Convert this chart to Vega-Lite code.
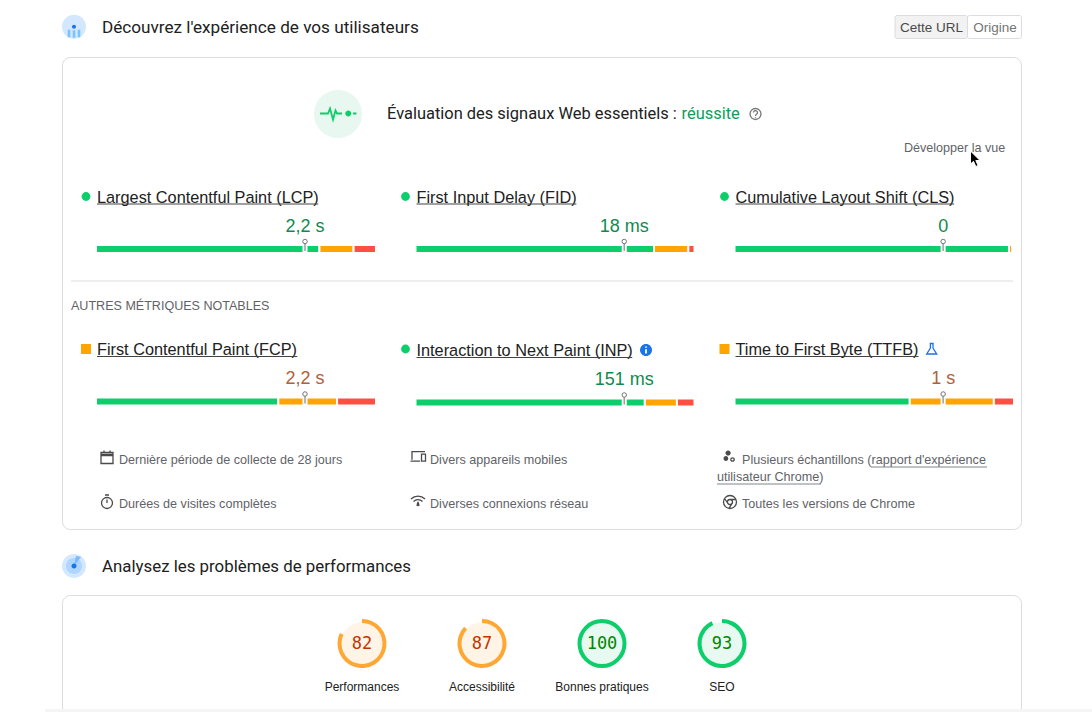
{"$schema":"https://vega.github.io/schema/vega-lite/v6.json","width":1092,"height":712,"padding":0,"autosize":{"type":"none"},"background":"white","config":{"view":{"stroke":null},"axis":{"disable":true},"legend":{"disable":true},"text":{"font":"Liberation Sans"}},
"datasets":{
"metrics":[
{"metric":"LCP","name":"Largest Contentful Paint (LCP)","col":1,"row":1,"value":"2,2 s","status":"good","p75":75,"origin":0,"nameWidth":79.3},
{"metric":"FID","name":"First Input Delay (FID)","col":2,"row":1,"value":"18 ms","status":"good","p75":75,"origin":0,"nameWidth":57.5},
{"metric":"CLS","name":"Cumulative Layout Shift (CLS)","col":3,"row":1,"value":"0","status":"good","p75":75,"origin":0,"nameWidth":78.5},
{"metric":"FCP","name":"First Contentful Paint (FCP)","col":1,"row":2,"value":"2,2 s","status":"average","p75":75,"origin":0,"nameWidth":71.8},
{"metric":"INP","name":"Interaction to Next Paint (INP)","col":2,"row":2,"value":"151 ms","status":"good","p75":75,"origin":0,"nameWidth":77.6},
{"metric":"TTFB","name":"Time to First Byte (TTFB)","col":3,"row":2,"value":"1 s","status":"average","p75":75,"origin":0,"nameWidth":65.7}],
"segments":[
{"metric":"LCP","col":1,"row":1,"rank":1,"status":"good","share":79.8},{"metric":"LCP","col":1,"row":1,"rank":2,"status":"average","share":12.2},{"metric":"LCP","col":1,"row":1,"rank":3,"status":"poor","share":8},
{"metric":"FID","col":2,"row":1,"rank":1,"status":"good","share":85.5},{"metric":"FID","col":2,"row":1,"rank":2,"status":"average","share":12.3},{"metric":"FID","col":2,"row":1,"rank":3,"status":"poor","share":2.2},
{"metric":"CLS","col":3,"row":1,"rank":1,"status":"good","share":98.2},{"metric":"CLS","col":3,"row":1,"rank":2,"status":"average","share":1.2},{"metric":"CLS","col":3,"row":1,"rank":3,"status":"poor","share":0.6},
{"metric":"FCP","col":1,"row":2,"rank":1,"status":"good","share":65.1},{"metric":"FCP","col":1,"row":2,"rank":2,"status":"average","share":21},{"metric":"FCP","col":1,"row":2,"rank":3,"status":"poor","share":13.9},
{"metric":"INP","col":2,"row":2,"rank":1,"status":"good","share":82.2},{"metric":"INP","col":2,"row":2,"rank":2,"status":"average","share":11.5},{"metric":"INP","col":2,"row":2,"rank":3,"status":"poor","share":6.3},
{"metric":"TTFB","col":3,"row":2,"rank":1,"status":"good","share":62.7},{"metric":"TTFB","col":3,"row":2,"rank":2,"status":"average","share":30.1},{"metric":"TTFB","col":3,"row":2,"rank":3,"status":"poor","share":7.2}],
"scores":[
{"category":"Performances","col":1,"start":0,"score":82,"rating":"average"},
{"category":"Accessibilité","col":2,"start":0,"score":87,"rating":"average"},
{"category":"Bonnes pratiques","col":3,"start":0,"score":100,"rating":"good"},
{"category":"SEO","col":4,"start":0,"score":93,"rating":"good"}],
"captions":[
{"text":"Dernière période de collecte de 28 jours","col":1,"row":1},
{"text":"Divers appareils mobiles","col":2,"row":1},
{"text":"Plusieurs échantillons (rapport d'expérience","col":3,"row":1},
{"text":"utilisateur Chrome)","col":4,"row":2},
{"text":"Durées de visites complètes","col":1,"row":3},
{"text":"Diverses connexions réseau","col":2,"row":3},
{"text":"Toutes les versions de Chrome","col":3,"row":3}]
},
"resolve":{"scale":{"x":"independent","y":"independent","color":"independent","shape":"independent","size":"independent"}},
"layer":[
{"data":{"values":[{"card":"Signaux Web","left":0,"right":1,"top":1,"bottom":2},{"card":"Performances","left":0,"right":1,"top":3,"bottom":4}]},"mark":{"type":"rect","fill":"white","stroke":"#DADCE0","strokeWidth":1,"cornerRadius":8,"clip":true},"encoding":{"x":{"field":"left","type":"quantitative","scale":{"domain":[0,1],"range":[62.5,1021.5]}},"x2":{"field":"right"},"y":{"field":"top","type":"quantitative","scale":{"domain":[1,2,3,4],"range":[57.5,529.5,595.5,730]}},"y2":{"field":"bottom"}}},
{"data":{"values":[{"section":1,"text":"Découvrez l'expérience de vos utilisateurs"},{"section":2,"text":"Analysez les problèmes de performances"}]},"mark":{"type":"text","font":"Roboto","fontWeight":400,"align":"left","baseline":"middle","color":"#212121"},"encoding":{"x":{"field":"section","type":"quantitative","scale":{"domain":[1,2],"range":[102,102]}},"y":{"field":"section","type":"quantitative","scale":{"domain":[1,2],"range":[27.5,566.5]}},"size":{"field":"section","type":"quantitative","scale":{"domain":[1,2],"range":[17.15,16.85]}},"text":{"field":"text"}}},
{"data":{"values":[{"option":"Cette URL","start":1,"end":2,"low":0,"high":1,"selected":"oui"},{"option":"Origine","start":2,"end":3,"low":0,"high":1,"selected":"non"}]},"mark":{"type":"rect","stroke":"#DADCE0","strokeWidth":1,"cornerRadius":2},"encoding":{"x":{"field":"start","type":"quantitative","scale":{"domain":[1,2,3],"range":[895,967.5,1021.5]}},"x2":{"field":"end"},"y":{"field":"low","type":"quantitative","scale":{"domain":[0,1],"range":[15.5,38.5]}},"y2":{"field":"high"},"color":{"field":"selected","type":"nominal","scale":{"domain":["oui","non"],"range":["#F2F2F2","#FFFFFF"]}}}},
{"data":{"values":[{"option":"Cette URL","start":1,"selected":"oui"},{"option":"Origine","start":2,"selected":"non"}]},"mark":{"type":"text","fontSize":13.5,"align":"center","baseline":"middle"},"encoding":{"x":{"field":"start","type":"quantitative","scale":{"domain":[1,2],"range":[931.5,995]}},"y":{"field":"start","type":"quantitative","scale":{"domain":[1,2],"range":[27.5,27.5]}},"text":{"field":"option"},"color":{"field":"selected","type":"nominal","scale":{"domain":["oui","non"],"range":["#4A4A4A","#757575"]}}}},
{"data":{"values":[{"part":1,"text":"Évaluation des signaux Web essentiels :","tone":"neutre"},{"part":2,"text":"réussite","tone":"good"}]},"mark":{"type":"text","font":"Roboto","fontSize":16.45,"fontWeight":400,"align":"left","baseline":"middle"},"encoding":{"x":{"field":"part","type":"quantitative","scale":{"domain":[1,2],"range":[387,681.5]}},"y":{"field":"part","type":"quantitative","scale":{"domain":[1,2],"range":[114,114]}},"text":{"field":"text"},"color":{"field":"tone","type":"nominal","scale":{"domain":["neutre","good"],"range":["#212121","#0C9D58"]}}}},
{"data":{"values":[{"slot":1,"text":"Développer la vue"},{"slot":2,"text":"AUTRES MÉTRIQUES NOTABLES"}]},"mark":{"type":"text","fontSize":12.55,"align":"left","baseline":"middle","color":"#5F6368"},"encoding":{"x":{"field":"slot","type":"quantitative","scale":{"domain":[1,2],"range":[904,71]}},"y":{"field":"slot","type":"quantitative","scale":{"domain":[1,2],"range":[148,305.5]}},"text":{"field":"text"}}},
{"data":{"values":[{"line":"séparateur","from":0,"to":1}]},"mark":{"type":"rule","stroke":"#E8E8E8","strokeWidth":1.5},"encoding":{"x":{"field":"from","type":"quantitative","scale":{"domain":[0,1],"range":[71,1013]}},"x2":{"field":"to"},"y":{"field":"from","type":"quantitative","scale":{"domain":[0,1],"range":[281,281]}}}},
{"data":{"name":"captions"},"mark":{"type":"text","fontSize":12.6,"align":"left","baseline":"middle","color":"#5F6368"},"encoding":{"x":{"field":"col","type":"quantitative","scale":{"domain":[1,2,3,4],"range":[119,430,742,717]}},"y":{"field":"row","type":"quantitative","scale":{"domain":[1,2,3],"range":[460,477,504]}},"text":{"field":"text"}}},
{"data":{"values":[{"link":"rapport d'expérience","from":1,"to":2},{"link":"utilisateur Chrome","from":3,"to":4}]},"mark":{"type":"rule","stroke":"#80868B","strokeWidth":1},"encoding":{"x":{"field":"from","type":"quantitative","scale":{"domain":[1,2,3,4],"range":[871,987,717,821]}},"x2":{"field":"to"},"y":{"field":"from","type":"quantitative","scale":{"domain":[1,2,3,4],"range":[467,467,484,484]}}}},
{"data":{"values":[{"icon":"exp-bg","slot":1},{"icon":"exp-bars","slot":1},{"icon":"exp-dot","slot":1},{"icon":"sig-bg","slot":2},{"icon":"sig-dot","slot":3},{"icon":"perf-bg","slot":4},{"icon":"perf-mid","slot":4},{"icon":"perf-wedge","slot":4},{"icon":"perf-dot","slot":4},{"icon":"info","slot":5},{"icon":"samples","slot":6}]},"mark":{"type":"point","filled":true,"size":4,"opacity":1,"strokeWidth":0},"encoding":{"x":{"field":"slot","type":"quantitative","scale":{"domain":[1,2,3,4,5,6],"range":[74,338,348.3,74,646,729]}},"y":{"field":"slot","type":"quantitative","scale":{"domain":[1,2,3,4,5,6],"range":[26.7,114,113.5,566,350,457]}},"shape":{"field":"icon","type":"nominal","scale":{"domain":["exp-bg","exp-bars","exp-dot","sig-bg","sig-dot","perf-bg","perf-mid","perf-wedge","perf-dot","info","samples"],"range":["M-12,0A12,12 0 1 1 12,0A12,12 0 1 1 -12,0Z","M-6.3,3H-3.7V10.5H-6.3Z M-1.3,3.5H1.3V11H-1.3Z M3.7,3H6.3V10.5H3.7Z","M-2,0A2,2 0 1 1 2,0A2,2 0 1 1 -2,0Z","M-24,0A24,24 0 1 1 24,0A24,24 0 1 1 -24,0Z","M-3,0A3,3 0 1 1 3,0A3,3 0 1 1 -3,0Z","M-12,0A12,12 0 1 1 12,0A12,12 0 1 1 -12,0Z","M-8,0A8,8 0 1 1 8,0A8,8 0 1 1 -8,0Z","M0,0L7,-9L2,-10Z","M-2.5,0A2.5,2.5 0 1 1 2.5,0A2.5,2.5 0 1 1 -2.5,0Z","M-6,0A6,6 0 1 1 6,0A6,6 0 1 1 -6,0Z","M-3.5,-4A2.6,2.6 0 1 1 1.7,-4A2.6,2.6 0 1 1 -3.5,-4Z M-5.5,1.5A2.4,2.4 0 1 1 -0.7,1.5A2.4,2.4 0 1 1 -5.5,1.5Z"]}},"color":{"field":"icon","type":"nominal","scale":{"domain":["exp-bg","exp-bars","exp-dot","sig-bg","sig-dot","perf-bg","perf-mid","perf-wedge","perf-dot","info","samples"],"range":["#D3E8FF","#7DC3FB","#1A73E8","#E8F8F1","#0CCE6B","#D3E8FF","#AFD6FF","#7DB8F7","#1A73E8","#1A73E8","#4A4A4A"]}}}},
{"data":{"values":[{"icon":"help","slot":1},{"icon":"calendar","slot":2},{"icon":"timer","slot":3},{"icon":"devices","slot":4},{"icon":"network","slot":5},{"icon":"samples-ring","slot":6},{"icon":"chrome","slot":7},{"icon":"flask","slot":8}]},"mark":{"type":"point","filled":false,"size":4,"opacity":1,"strokeWidth":1.3},"encoding":{"x":{"field":"slot","type":"quantitative","scale":{"domain":[1,2,3,4,5,6,7,8],"range":[755.5,107,107,418,418,729,730,931.7]}},"y":{"field":"slot","type":"quantitative","scale":{"domain":[1,2,3,4,5,6,7,8],"range":[114,457.5,501.5,456.7,501,457,502,349]}},"shape":{"field":"icon","type":"nominal","scale":{"domain":["help","calendar","timer","devices","network","samples-ring","chrome","flask"],"range":["M-5.5,0A5.5,5.5 0 1 1 5.5,0A5.5,5.5 0 1 1 -5.5,0Z M-2,-1.5A2,2 0 1 1 1,0.3C0.3,0.8 0,1.2 0,2 M0,3V3.8","M-6,-5H6V6H-6Z M-6,-3H6 M-6,-2H6 M-3,-7V-5 M3,-7V-5","M-5.5,1.5A5.5,5.5 0 1 1 5.5,1.5A5.5,5.5 0 1 1 -5.5,1.5Z M-2,-6.5H2 M0,1.5V-2","M-6,3V-5H7 M-7.5,4.5H2 M3.5,-2.5H7.5V4.5H3.5Z","M-7,-2A10,10 0 0 1 7,-2 M-4.5,0.5A6.5,6.5 0 0 1 4.5,0.5 M-1,5L0,1L1,5 M-0.5,2V5 M0.5,2V5","M1.8,2.5A1.7,1.7 0 1 1 5.2,2.5A1.7,1.7 0 1 1 1.8,2.5Z","M-6.5,0A6.5,6.5 0 1 1 6.5,0A6.5,6.5 0 1 1 -6.5,0Z M-2.5,0A2.5,2.5 0 1 1 2.5,0A2.5,2.5 0 1 1 -2.5,0Z M0,-2.5H6 M2.2,1.2L-1,6.3 M-2.2,1.2L-5.5,-3.5","M-2,-5.5H2 M-1.3,-5.5V-1L-5,5H5L1.3,-1V-5.5"]}},"color":{"field":"icon","type":"nominal","scale":{"domain":["help","calendar","timer","devices","network","samples-ring","chrome","flask"],"range":["#757575","#4A4A4A","#4A4A4A","#4A4A4A","#4A4A4A","#4A4A4A","#4A4A4A","#1A73E8"]}}}},
{"data":{"values":[{"icon":"heartbeat","slot":1},{"icon":"info-i","slot":2}]},"mark":{"type":"point","filled":false,"size":4,"opacity":1,"strokeWidth":1.8},"encoding":{"x":{"field":"slot","type":"quantitative","scale":{"domain":[1,2],"range":[338,646]}},"y":{"field":"slot","type":"quantitative","scale":{"domain":[1,2],"range":[113.5,350]}},"shape":{"field":"icon","type":"nominal","scale":{"domain":["heartbeat","info-i"],"range":["M-18,0H-10L-8,-5L-5,6L-2.5,-3L-1,0H4 M15,0H18.5","M0,-0.8V3.5 M0,-3.6V-2.2"]}},"color":{"field":"icon","type":"nominal","scale":{"domain":["heartbeat","info-i"],"range":["#0CCE6B","#FFFFFF"]}}}},

{"data":{"name":"segments"},"transform":[{"filter":"datum.col===1"},{"stack":"share","groupby":["metric"],"sort":[{"field":"rank"}],"as":["from","to"]}],"mark":{"type":"rect","height":8,"stroke":"white","strokeWidth":2},"encoding":{"x":{"field":"from","type":"quantitative","scale":{"domain":[0,100],"range":[96,376]}},"x2":{"field":"to"},"y":{"field":"row","type":"quantitative","scale":{"domain":[1,2],"range":[249,401.5]}},"color":{"field":"status","type":"nominal","scale":{"domain":["good","average","poor"],"range":["#0CCE6B","#FFA400","#FF4E42"]}}}},
{"data":{"name":"metrics"},"transform":[{"filter":"datum.col===1"}],"mark":{"type":"rule","stroke":"white","strokeWidth":5,"xOffset":-1,"yOffset":-4,"y2Offset":4},"encoding":{"x":{"field":"p75","type":"quantitative","scale":{"domain":[0,100],"range":[96,376]}},"y":{"field":"row","type":"quantitative","scale":{"domain":[1,2],"range":[249,401.5]}},"y2":{"field":"row"}}},
{"data":{"name":"metrics"},"transform":[{"filter":"datum.col===1"}],"mark":{"type":"rule","stroke":"#9E9E9E","strokeWidth":1.5,"xOffset":-1,"yOffset":-6,"y2Offset":2},"encoding":{"x":{"field":"p75","type":"quantitative","scale":{"domain":[0,100],"range":[96,376]}},"y":{"field":"row","type":"quantitative","scale":{"domain":[1,2],"range":[249,401.5]}},"y2":{"field":"row"}}},
{"data":{"name":"metrics"},"transform":[{"filter":"datum.col===1"}],"mark":{"type":"point","shape":"circle","size":20,"filled":true,"fill":"white","stroke":"#757575","strokeWidth":1,"opacity":1,"xOffset":-1,"yOffset":-7.5},"encoding":{"x":{"field":"p75","type":"quantitative","scale":{"domain":[0,100],"range":[96,376]}},"y":{"field":"row","type":"quantitative","scale":{"domain":[1,2],"range":[249,401.5]}}}},
{"data":{"name":"metrics"},"transform":[{"filter":"datum.col===1"}],"mark":{"type":"text","fontSize":18,"align":"center","baseline":"middle","xOffset":-1,"yOffset":-22.5},"encoding":{"x":{"field":"p75","type":"quantitative","scale":{"domain":[0,100],"range":[96,376]}},"y":{"field":"row","type":"quantitative","scale":{"domain":[1,2],"range":[249,401.5]}},"text":{"field":"value"},"color":{"field":"status","type":"nominal","scale":{"domain":["good","average"],"range":["#118A4E","#B0603A"]}}}},
{"data":{"name":"metrics"},"transform":[{"filter":"datum.col===1"}],"mark":{"type":"text","fontSize":16.3,"align":"left","baseline":"middle","color":"#212121","xOffset":1,"yOffset":-51.5},"encoding":{"x":{"field":"origin","type":"quantitative","scale":{"domain":[0,100],"range":[96,376]}},"y":{"field":"row","type":"quantitative","scale":{"domain":[1,2],"range":[249.8,401.5]}},"text":{"field":"name"}}},
{"data":{"name":"metrics"},"transform":[{"filter":"datum.col===1"}],"mark":{"type":"rule","stroke":"#424242","strokeWidth":1,"yOffset":-45},"encoding":{"x":{"field":"origin","type":"quantitative","scale":{"domain":[0,100],"range":[97,376]}},"x2":{"field":"nameWidth"},"y":{"field":"row","type":"quantitative","scale":{"domain":[1,2],"range":[249,401.5]}}}},
{"data":{"name":"metrics"},"transform":[{"filter":"datum.col===1"}],"mark":{"type":"point","filled":true,"opacity":1,"xOffset":-10,"yOffset":-52.5},"encoding":{"x":{"field":"origin","type":"quantitative","scale":{"domain":[0,100],"range":[96,376]}},"y":{"field":"row","type":"quantitative","scale":{"domain":[1,2],"range":[249,401.5]}},"shape":{"field":"status","type":"nominal","scale":{"domain":["good","average"],"range":["circle","square"]}},"size":{"field":"status","type":"ordinal","scale":{"domain":["good","average"],"range":[78,100]}},"color":{"field":"status","type":"nominal","scale":{"domain":["good","average"],"range":["#0CCE6B","#FFA400"]}}}},

{"data":{"name":"segments"},"transform":[{"filter":"datum.col===2"},{"stack":"share","groupby":["metric"],"sort":[{"field":"rank"}],"as":["from","to"]}],"mark":{"type":"rect","height":8,"stroke":"white","strokeWidth":2},"encoding":{"x":{"field":"from","type":"quantitative","scale":{"domain":[0,100],"range":[415.5,694.5]}},"x2":{"field":"to"},"y":{"field":"row","type":"quantitative","scale":{"domain":[1,2],"range":[249,402.5]}},"color":{"field":"status","type":"nominal","scale":{"domain":["good","average","poor"],"range":["#0CCE6B","#FFA400","#FF4E42"]}}}},
{"data":{"name":"metrics"},"transform":[{"filter":"datum.col===2"}],"mark":{"type":"rule","stroke":"white","strokeWidth":5,"xOffset":-0.5,"yOffset":-4,"y2Offset":4},"encoding":{"x":{"field":"p75","type":"quantitative","scale":{"domain":[0,100],"range":[415.5,694.5]}},"y":{"field":"row","type":"quantitative","scale":{"domain":[1,2],"range":[249,402.5]}},"y2":{"field":"row"}}},
{"data":{"name":"metrics"},"transform":[{"filter":"datum.col===2"}],"mark":{"type":"rule","stroke":"#9E9E9E","strokeWidth":1.5,"xOffset":-0.5,"yOffset":-6,"y2Offset":2},"encoding":{"x":{"field":"p75","type":"quantitative","scale":{"domain":[0,100],"range":[415.5,694.5]}},"y":{"field":"row","type":"quantitative","scale":{"domain":[1,2],"range":[249,402.5]}},"y2":{"field":"row"}}},
{"data":{"name":"metrics"},"transform":[{"filter":"datum.col===2"}],"mark":{"type":"point","shape":"circle","size":20,"filled":true,"fill":"white","stroke":"#757575","strokeWidth":1,"opacity":1,"xOffset":-0.5,"yOffset":-7.5},"encoding":{"x":{"field":"p75","type":"quantitative","scale":{"domain":[0,100],"range":[415.5,694.5]}},"y":{"field":"row","type":"quantitative","scale":{"domain":[1,2],"range":[249,402.5]}}}},
{"data":{"name":"metrics"},"transform":[{"filter":"datum.col===2"}],"mark":{"type":"text","fontSize":18,"align":"center","baseline":"middle","xOffset":-0.5,"yOffset":-22.5},"encoding":{"x":{"field":"p75","type":"quantitative","scale":{"domain":[0,100],"range":[415.5,694.5]}},"y":{"field":"row","type":"quantitative","scale":{"domain":[1,2],"range":[249,402.5]}},"text":{"field":"value"},"color":{"field":"status","type":"nominal","scale":{"domain":["good","average"],"range":["#118A4E","#B0603A"]}}}},
{"data":{"name":"metrics"},"transform":[{"filter":"datum.col===2"}],"mark":{"type":"text","fontSize":16.3,"align":"left","baseline":"middle","color":"#212121","xOffset":1,"yOffset":-51.5},"encoding":{"x":{"field":"origin","type":"quantitative","scale":{"domain":[0,100],"range":[415.5,694.5]}},"y":{"field":"row","type":"quantitative","scale":{"domain":[1,2],"range":[249.8,402.5]}},"text":{"field":"name"}}},
{"data":{"name":"metrics"},"transform":[{"filter":"datum.col===2"}],"mark":{"type":"rule","stroke":"#424242","strokeWidth":1,"yOffset":-45},"encoding":{"x":{"field":"origin","type":"quantitative","scale":{"domain":[0,100],"range":[416.5,694.5]}},"x2":{"field":"nameWidth"},"y":{"field":"row","type":"quantitative","scale":{"domain":[1,2],"range":[249,402.5]}}}},
{"data":{"name":"metrics"},"transform":[{"filter":"datum.col===2"}],"mark":{"type":"point","filled":true,"opacity":1,"xOffset":-10,"yOffset":-52.5},"encoding":{"x":{"field":"origin","type":"quantitative","scale":{"domain":[0,100],"range":[415.5,694.5]}},"y":{"field":"row","type":"quantitative","scale":{"domain":[1,2],"range":[249,401.5]}},"shape":{"field":"status","type":"nominal","scale":{"domain":["good","average"],"range":["circle","square"]}},"size":{"field":"status","type":"ordinal","scale":{"domain":["good","average"],"range":[78,100]}},"color":{"field":"status","type":"nominal","scale":{"domain":["good","average"],"range":["#0CCE6B","#FFA400"]}}}},

{"data":{"name":"segments"},"transform":[{"filter":"datum.col===3"},{"stack":"share","groupby":["metric"],"sort":[{"field":"rank"}],"as":["from","to"]}],"mark":{"type":"rect","height":8,"stroke":"white","strokeWidth":2},"encoding":{"x":{"field":"from","type":"quantitative","scale":{"domain":[0,100],"range":[734.5,1014]}},"x2":{"field":"to"},"y":{"field":"row","type":"quantitative","scale":{"domain":[1,2],"range":[249,401.5]}},"color":{"field":"status","type":"nominal","scale":{"domain":["good","average","poor"],"range":["#0CCE6B","#FFA400","#FF4E42"]}}}},
{"data":{"name":"metrics"},"transform":[{"filter":"datum.col===3"}],"mark":{"type":"rule","stroke":"white","strokeWidth":5,"xOffset":-1,"yOffset":-4,"y2Offset":4},"encoding":{"x":{"field":"p75","type":"quantitative","scale":{"domain":[0,100],"range":[734.5,1014]}},"y":{"field":"row","type":"quantitative","scale":{"domain":[1,2],"range":[249,401.5]}},"y2":{"field":"row"}}},
{"data":{"name":"metrics"},"transform":[{"filter":"datum.col===3"}],"mark":{"type":"rule","stroke":"#9E9E9E","strokeWidth":1.5,"xOffset":-1,"yOffset":-6,"y2Offset":2},"encoding":{"x":{"field":"p75","type":"quantitative","scale":{"domain":[0,100],"range":[734.5,1014]}},"y":{"field":"row","type":"quantitative","scale":{"domain":[1,2],"range":[249,401.5]}},"y2":{"field":"row"}}},
{"data":{"name":"metrics"},"transform":[{"filter":"datum.col===3"}],"mark":{"type":"point","shape":"circle","size":20,"filled":true,"fill":"white","stroke":"#757575","strokeWidth":1,"opacity":1,"xOffset":-1,"yOffset":-7.5},"encoding":{"x":{"field":"p75","type":"quantitative","scale":{"domain":[0,100],"range":[734.5,1014]}},"y":{"field":"row","type":"quantitative","scale":{"domain":[1,2],"range":[249,401.5]}}}},
{"data":{"name":"metrics"},"transform":[{"filter":"datum.col===3"}],"mark":{"type":"text","fontSize":18,"align":"center","baseline":"middle","xOffset":-1,"yOffset":-22.5},"encoding":{"x":{"field":"p75","type":"quantitative","scale":{"domain":[0,100],"range":[734.5,1014]}},"y":{"field":"row","type":"quantitative","scale":{"domain":[1,2],"range":[249,401.5]}},"text":{"field":"value"},"color":{"field":"status","type":"nominal","scale":{"domain":["good","average"],"range":["#118A4E","#B0603A"]}}}},
{"data":{"name":"metrics"},"transform":[{"filter":"datum.col===3"}],"mark":{"type":"text","fontSize":16.3,"align":"left","baseline":"middle","color":"#212121","xOffset":1,"yOffset":-51.5},"encoding":{"x":{"field":"origin","type":"quantitative","scale":{"domain":[0,100],"range":[734.5,1014]}},"y":{"field":"row","type":"quantitative","scale":{"domain":[1,2],"range":[249.8,401.5]}},"text":{"field":"name"}}},
{"data":{"name":"metrics"},"transform":[{"filter":"datum.col===3"}],"mark":{"type":"rule","stroke":"#424242","strokeWidth":1,"yOffset":-45},"encoding":{"x":{"field":"origin","type":"quantitative","scale":{"domain":[0,100],"range":[735.5,1014]}},"x2":{"field":"nameWidth"},"y":{"field":"row","type":"quantitative","scale":{"domain":[1,2],"range":[249,401.5]}}}},
{"data":{"name":"metrics"},"transform":[{"filter":"datum.col===3"}],"mark":{"type":"point","filled":true,"opacity":1,"xOffset":-10,"yOffset":-52.5},"encoding":{"x":{"field":"origin","type":"quantitative","scale":{"domain":[0,100],"range":[734.5,1014]}},"y":{"field":"row","type":"quantitative","scale":{"domain":[1,2],"range":[249,401.5]}},"shape":{"field":"status","type":"nominal","scale":{"domain":["good","average"],"range":["circle","square"]}},"size":{"field":"status","type":"ordinal","scale":{"domain":["good","average"],"range":[78,100]}},"color":{"field":"status","type":"nominal","scale":{"domain":["good","average"],"range":["#0CCE6B","#FFA400"]}}}},

{"data":{"name":"scores"},"mark":{"type":"point","shape":"circle","filled":true,"size":1810,"opacity":1,"strokeWidth":0},"encoding":{"x":{"field":"col","type":"quantitative","scale":{"domain":[1,4],"range":[362,722]}},"y":{"field":"col","type":"quantitative","scale":{"domain":[1,4],"range":[643.5,643.5]}},"color":{"field":"rating","type":"nominal","scale":{"domain":["average","good"],"range":["#FFF4E6","#E7F9F0"]}}}},
{"data":{"name":"scores"},"mark":{"type":"arc","radius":24.5,"radius2":20.5},"encoding":{"x":{"field":"col","type":"quantitative","scale":{"domain":[1,4],"range":[362,722]}},"y":{"field":"col","type":"quantitative","scale":{"domain":[1,4],"range":[643.5,643.5]}},"theta":{"field":"start","type":"quantitative","scale":{"domain":[0,100],"range":[0,6.2832]}},"theta2":{"field":"score"},"color":{"field":"rating","type":"nominal","scale":{"domain":["average","good"],"range":["#FFA733","#0CCE6B"]}}}},
{"data":{"name":"scores"},"mark":{"type":"text","font":"DejaVu Sans Mono","fontSize":17,"align":"center","baseline":"middle"},"encoding":{"x":{"field":"col","type":"quantitative","scale":{"domain":[1,4],"range":[362,722]}},"y":{"field":"col","type":"quantitative","scale":{"domain":[1,4],"range":[643.5,643.5]}},"text":{"field":"score"},"color":{"field":"rating","type":"nominal","scale":{"domain":["average","good"],"range":["#C33300","#008800"]}}}},
{"data":{"name":"scores"},"mark":{"type":"text","fontSize":12,"align":"center","baseline":"middle","color":"#212121","yOffset":43},"encoding":{"x":{"field":"col","type":"quantitative","scale":{"domain":[1,4],"range":[362,722]}},"y":{"field":"col","type":"quantitative","scale":{"domain":[1,4],"range":[643.5,643.5]}},"text":{"field":"category"}}},
{"data":{"values":[{"band":"bas","left":0,"right":1}]},"mark":{"type":"rect","fill":"#F5F5F5"},"encoding":{"x":{"field":"left","type":"quantitative","scale":{"domain":[0,1],"range":[45,1092]}},"x2":{"field":"right"},"y":{"field":"left","type":"quantitative","scale":{"domain":[0,1],"range":[709,712]}},"y2":{"field":"right"}}},
{"data":{"values":[{"pointer":"curseur","slot":1}]},"mark":{"type":"point","filled":true,"size":4,"opacity":1,"fill":"#000000","stroke":"#FFFFFF","strokeWidth":1,"shape":"M0,0V13L3,10.3L5.3,15.5L7.6,14.5L5.3,9.5H9.5Z"},"encoding":{"x":{"field":"slot","type":"quantitative","scale":{"domain":[1,2],"range":[970.5,970.5]}},"y":{"field":"slot","type":"quantitative","scale":{"domain":[1,2],"range":[151,151]}}}}
]}
